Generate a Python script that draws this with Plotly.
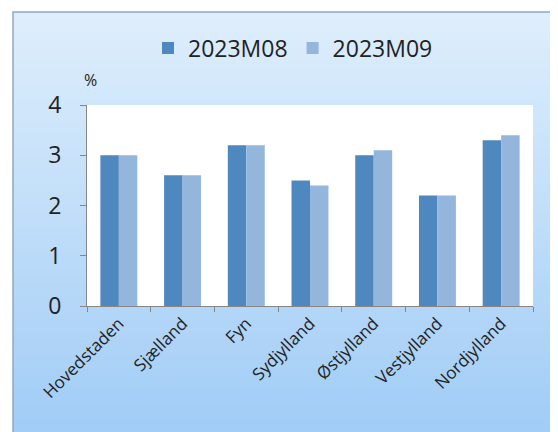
import plotly.graph_objects as go

categories = ["Hovedstaden", "Sjælland", "Fyn", "Sydjylland", "Østjylland", "Vestjylland", "Nordjylland"]
aug_values = [3.0, 2.6, 3.2, 2.5, 3.0, 2.2, 3.3]
sep_values = [3.0, 2.6, 3.2, 2.4, 3.1, 2.2, 3.4]
series_names = ["2023M08", "2023M09"]
y_ticks = [0, 1, 2, 3, 4]

W, H = 558, 432
OFF = 8  # page body margin
FONT = "Open Sans"


def px_x(x):
    return (x - OFF) / W


def px_y(y):
    return 1 - (y - OFF) / H


fig = go.Figure()
fig.add_trace(go.Bar(x=categories, y=aug_values, name=series_names[0],
                     marker=dict(color="#4f87bf", line=dict(width=0))))
fig.add_trace(go.Bar(x=categories, y=sep_values, name=series_names[1],
                     marker=dict(color="#94b6dc", line=dict(width=0))))

# gradient background via strips
shapes = []
x0 = px_x(13)
y_top = px_y(12)
y_bot = px_y(440)
n = 60
top_rgb = (222, 238, 252)
bot_rgb = (160, 204, 246)
for i in range(n):
    t = i / (n - 1)
    r = round(top_rgb[0] + (bot_rgb[0] - top_rgb[0]) * t)
    g = round(top_rgb[1] + (bot_rgb[1] - top_rgb[1]) * t)
    b = round(top_rgb[2] + (bot_rgb[2] - top_rgb[2]) * t)
    ya = y_top - (y_top - y_bot) * i / n
    yb = y_top - (y_top - y_bot) * (i + 1) / n
    shapes.append(dict(type="rect", xref="paper", yref="paper", x0=x0, x1=1.05,
                       y0=yb - 0.002, y1=ya, fillcolor=f"rgb({r},{g},{b})",
                       line=dict(width=0), layer="below"))
# border
shapes.append(dict(type="rect", xref="paper", yref="paper", x0=x0, x1=1.05,
                   y0=y_bot, y1=y_top, fillcolor="rgba(0,0,0,0)",
                   line=dict(color="#8fa9bf", width=1.5), layer="below"))
# white plot area
px0, px1 = px_x(87), px_x(533)
py0, py1 = px_y(306), px_y(105)
shapes.append(dict(type="rect", xref="paper", yref="paper", x0=px0, x1=px1,
                   y0=py0, y1=py1, fillcolor="white", line=dict(width=0), layer="below"))

fig.update_layout(
    width=W, height=H,
    margin=dict(l=0, r=0, t=0, b=0, autoexpand=False),
    paper_bgcolor="white",
    plot_bgcolor="rgba(0,0,0,0)",
    shapes=shapes,
    barmode="group",
    bargap=0.42,
    bargroupgap=0,
    font=dict(family=FONT, color="#222222"),
    showlegend=True,
    legend=dict(orientation="h", x=px_x(293), xanchor="center", y=px_y(48), yanchor="middle",
                font=dict(size=23, family=FONT, color="#222222"),
                bgcolor="rgba(0,0,0,0)", itemwidth=30, tracegroupgap=0),
    xaxis=dict(domain=[px0, px1], type="category", showgrid=False, automargin=False,
               showline=True, linecolor="#868686", linewidth=1,
               ticks="outside", tickson="boundaries", ticklen=5, tickcolor="#868686",
               tickangle=-45, tickfont=dict(size=17, family=FONT, color="#222222")),
    yaxis=dict(domain=[py0, py1], range=[0, 4], tickvals=y_ticks, showgrid=False, automargin=False,
               showline=True, linecolor="#868686", linewidth=1,
               ticks="outside", ticklen=6, tickcolor="#868686", ticklabelstandoff=14,
               tickfont=dict(size=23, family=FONT, color="#222222"), zeroline=False),
    annotations=[dict(text="%", xref="paper", yref="paper", x=px_x(90), y=px_y(80),
                      xanchor="center", yanchor="middle", showarrow=False,
                      font=dict(size=16, family=FONT, color="#222222"))],
)

fig.write_html("out.html")
